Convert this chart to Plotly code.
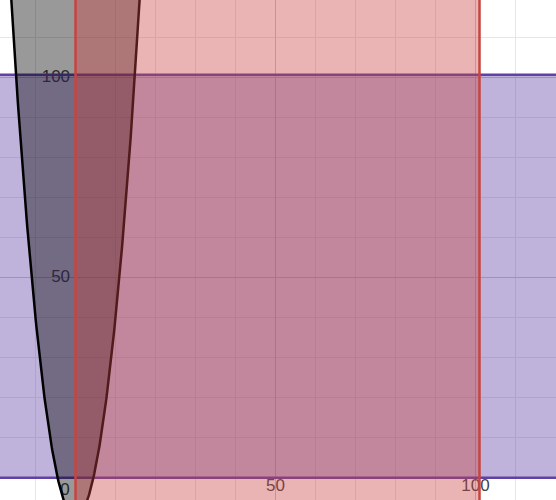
import numpy as np
import plotly.graph_objects as go

# regions of the sketch (graph units)
parabola_a = 0.5          # y >= a*x^2 + k
parabola_k = -10
parabola_span = [-17, 17]
red_band_x = [0, 101]        # 0 <= x <= 101
purple_band_y = [0, 100.75]  # 0 <= y <= 100.75

tick_values = [50, 100]
tick_labels = ["50", "100"]

x_range = [-18.875, 120.125]
y_range = [-5.575, 119.425]

BLACK = "#000000"
RED = "#c74440"
PURPLE = "#6042a6"
PX = 4.0  # pixels per unit

fig = go.Figure()

# axis labels first so the fills sit over them
lab_x, lab_y, lab_t = [], [], []
for v, t in zip(tick_values, tick_labels):
    # x-axis labels, centred under the tick
    lab_x.append(v)
    lab_y.append(-9.5 / PX)
    lab_t.append(t)
    # y-axis labels, right-aligned a few px left of the axis
    lab_x.append(-(5.5 + 4.7 * len(t)) / PX)
    lab_y.append(v)
    lab_t.append(t)
lab_x.append(-10.5 / PX)
lab_y.append(-13.5 / PX)
lab_t.append("0")

fig.add_trace(go.Scatter(
    x=lab_x, y=lab_y, text=lab_t, mode="text",
    textposition="middle center", cliponaxis=False,
    textfont=dict(family="Liberation Sans, Arial", size=17, color="#444444"),
    hoverinfo="skip", showlegend=False,
))

# 0 <= y <= 100.75
y0, y1 = purple_band_y
fig.add_trace(go.Scatter(
    x=[-200, 400, 400, -200, -200], y=[y0, y0, y1, y1, y0],
    mode="lines", fill="toself",
    fillcolor="rgba(96,66,166,0.4)",
    line=dict(color=PURPLE, width=2.5),
    hoverinfo="skip", showlegend=False,
))

# y >= a x^2 + k
xs = np.linspace(parabola_span[0], parabola_span[1], 241)
ys = parabola_a * xs ** 2 + parabola_k
fig.add_trace(go.Scatter(
    x=list(xs) + [xs[0]], y=list(ys) + [ys[0]],
    mode="lines", fill="toself",
    fillcolor="rgba(0,0,0,0.4)",
    line=dict(color=BLACK, width=2.5),
    hoverinfo="skip", showlegend=False,
))

# 0 <= x <= 101
x0, x1 = red_band_x
fig.add_trace(go.Scatter(
    x=[x0, x0, x1, x1, x0], y=[-200, 400, 400, -200, -200],
    mode="lines", fill="toself",
    fillcolor="rgba(199,68,64,0.4)",
    line=dict(color=RED, width=2.5),
    hoverinfo="skip", showlegend=False,
))

axis_common = dict(
    tick0=0, dtick=50,
    showgrid=True, gridcolor="#c8c8c8", gridwidth=1,
    minor=dict(tick0=0, dtick=10, showgrid=True, gridcolor="#e6e6e6", gridwidth=1),
    zeroline=False, showline=False, showticklabels=False, ticks="",
    fixedrange=True,
)

fig.update_layout(
    width=556, height=500,
    margin=dict(l=0, r=0, t=0, b=0),
    plot_bgcolor="white", paper_bgcolor="white",
    xaxis=dict(range=x_range, **axis_common),
    yaxis=dict(range=y_range, **axis_common),
    showlegend=False,
)

fig.write_html(
    "out.html",
    config={"displayModeBar": False},
    post_script="document.body.style.margin = '0';",
)
